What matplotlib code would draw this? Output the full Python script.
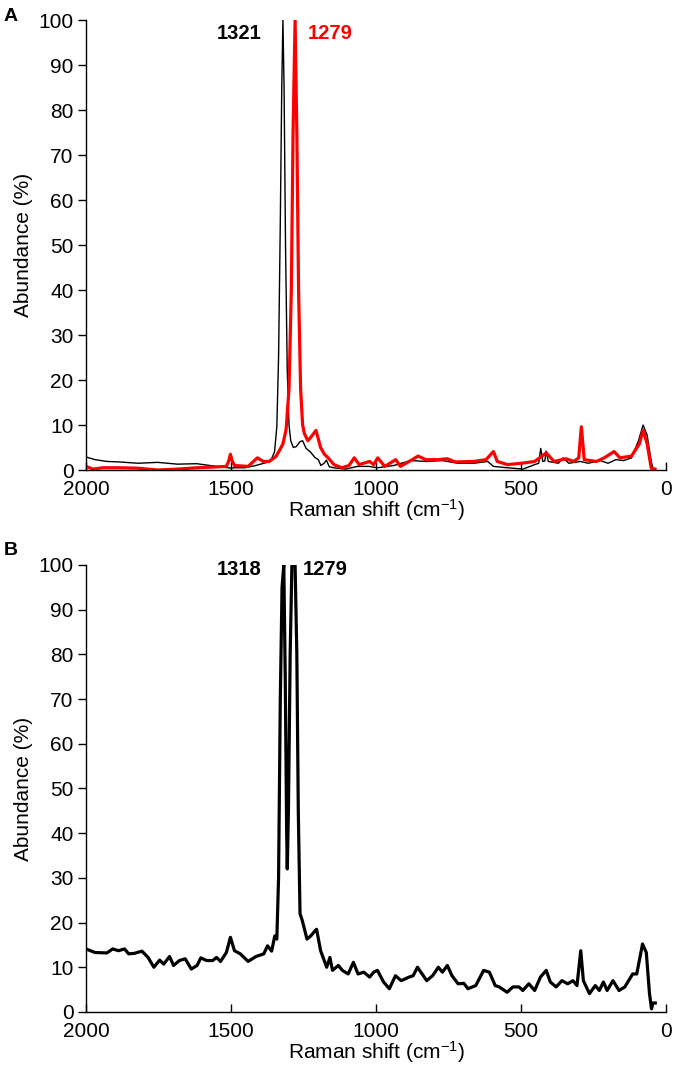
import numpy as np
import matplotlib
matplotlib.use('Agg')
import matplotlib.pyplot as plt

plt.rcParams['font.family'] = ['Liberation Sans', 'DejaVu Sans']
plt.rcParams['mathtext.fontset'] = 'custom'
plt.rcParams['mathtext.rm'] = 'Liberation Sans'
plt.rcParams['mathtext.it'] = 'Liberation Sans:italic'

# panel A, black trace (peak 1321)
a_black_shift = [2000, 1969, 1928, 1888, 1820, 1753, 1685, 1618, 1550, 1510, 1500, 1490,
                 1452, 1415, 1375, 1360, 1350, 1342, 1336, 1330, 1325, 1321, 1317, 1312,
                 1306, 1300, 1294, 1285, 1275, 1262, 1253, 1241, 1226, 1211, 1199, 1190,
                 1179, 1171, 1161, 1145, 1132, 1105, 1064, 1024, 995, 939, 880, 825, 771,
                 717, 663, 615, 595, 547, 493, 453, 439, 432, 425, 418, 413, 406, 371, 355,
                 335, 295, 268, 227, 200, 173, 146, 119, 95, 79, 65, 51, 44]
a_black_val = [2.9, 2.3, 1.9, 1.8, 1.5, 1.7, 1.3, 1.4, 0.8, 0.5, 0.4, 0.5,
               0.5, 1.0, 1.7, 2.5, 4.0, 9.6, 25, 55, 85, 100, 85, 50,
               22, 10, 6.5, 5.0, 5.2, 6.3, 6.5, 4.8, 4.0, 2.8, 2.3, 1.0,
               1.5, 2.2, 0.7, 0.5, 0.4, 0.2, 0.8, 0.8, 0.5, 1.0, 2.1, 1.9, 2.1,
               1.5, 1.5, 1.9, 0.8, 0.5, 0.2, 1.2, 1.5, 4.8, 1.9, 2.0, 4.2, 1.9, 1.5, 2.7,
               1.5, 1.9, 1.5, 2.1, 1.5, 2.3, 2.1, 2.7, 6.5, 10.0, 7.7, 1.9, 0.2]

# panel A, red trace (peak 1279)
a_red_shift = [2000, 1976, 1942, 1888, 1820, 1753, 1685, 1618, 1550, 1516, 1508, 1502,
               1496, 1488, 1441, 1409, 1388, 1368, 1345, 1334, 1321, 1310, 1300, 1292,
               1286, 1279, 1273, 1267, 1260, 1253, 1247, 1235, 1222, 1207, 1191, 1178,
               1165, 1145, 1118, 1093, 1075, 1058, 1022, 1008, 994, 970, 932, 916, 875,
               855, 828, 787, 754, 727, 663, 621, 595, 582, 547, 499, 453, 413, 386, 345,
               318, 301, 292, 282, 240, 213, 179, 159, 119, 92, 79, 65, 51, 38]
a_red_val = [0.8, 0.2, 0.5, 0.5, 0.4, 0.0, 0.2, 0.5, 0.7, 0.8, 2.0, 3.5,
             2.0, 1.0, 0.8, 2.7, 1.9, 1.9, 3.0, 4.2, 5.8, 9, 18, 40,
             75, 100, 75, 40, 18, 10, 8.1, 6.5, 7.5, 8.8, 5.0, 3.5,
             2.7, 1.2, 0.5, 1.0, 2.7, 1.2, 1.9, 1.2, 2.7, 0.8, 2.3, 0.8, 2.3,
             3.1, 2.3, 2.3, 2.5, 1.8, 1.9, 2.3, 4.1, 1.9, 1.2, 1.5, 1.9, 3.8, 1.9, 2.5,
             1.9, 2.7, 9.6, 2.3, 1.9, 2.7, 4.1, 2.7, 3.1, 5.8, 8.8, 5.8, 0.4, 0.2]

# panel B (peaks 1318 / 1279)
b_shift = [2000, 1969, 1928, 1908, 1888, 1867, 1853, 1834, 1807, 1786, 1766, 1746,
           1732, 1712, 1698, 1678, 1658, 1637, 1617, 1604, 1584, 1563, 1550, 1536,
           1516, 1502, 1488, 1468, 1441, 1414, 1387, 1374, 1360, 1349, 1342, 1336,
           1330, 1324, 1318, 1313, 1308, 1306, 1302, 1296, 1290, 1279, 1273, 1268,
           1262, 1254, 1238, 1225, 1211, 1205, 1191, 1170, 1159, 1150, 1130, 1116,
           1096, 1078, 1062, 1042, 1022, 1008, 995, 974, 954, 933, 913, 886, 872,
           857, 825, 805, 785, 771, 754, 738, 717, 697, 683, 656, 629, 609, 589,
           575, 548, 528, 507, 494, 473, 453, 433, 413, 399, 379, 359, 339, 321,
           307, 294, 285, 264, 244, 230, 216, 203, 183, 162, 142, 115, 101, 81,
           68, 57, 50, 45, 37]
b_val = [14.1, 13.3, 13.2, 14.1, 13.7, 14.1, 13.0, 13.1, 13.6, 12.2, 10.0, 11.6,
         10.7, 12.4, 10.4, 11.5, 11.9, 9.6, 10.4, 12.1, 11.5, 11.5, 12.2, 11.3,
         13.3, 16.7, 13.7, 13.0, 11.3, 12.4, 13.0, 14.8, 13.6, 17.0, 16.3, 30,
         70, 95, 100, 75, 40, 32, 45, 80, 100, 100, 80, 45,
         22, 20.4, 16.3, 17.0, 18.1, 18.5, 13.7, 10.0, 12.2, 9.3, 10.4, 9.3,
         8.5, 11.1, 8.5, 8.9, 7.8, 8.9, 9.3, 6.7, 5.2, 8.1, 7.0, 7.8, 8.1,
         10.0, 7.0, 8.1, 10.0, 8.9, 10.4, 8.1, 6.3, 6.4, 5.2, 5.9, 9.3, 8.9, 5.9,
         5.6, 4.4, 5.6, 5.6, 4.8, 6.3, 4.8, 7.8, 9.3, 6.7, 5.6, 7.0, 6.3, 7.0,
         5.9, 13.7, 7.0, 4.1, 5.9, 4.8, 6.7, 4.8, 7.0, 4.8, 5.6, 8.5, 8.5, 15.2,
         13.3, 4.1, 0.7, 2.0, 2.0]

fig = plt.figure(figsize=(6.75, 10.77), dpi=100)
axA = fig.add_axes([0.1274, 0.5636, 0.8593, 0.4178])
axB = fig.add_axes([0.1274, 0.0604, 0.8593, 0.415])

axA.plot(a_black_shift, a_black_val, color='black', lw=1.0)
axA.plot(a_red_shift, a_red_val, color='#ff0000', lw=2.3)
axB.plot(b_shift, b_val, color='black', lw=2.3)

for ax in (axA, axB):
    ax.set_xlim(2000, 0)
    ax.set_ylim(0, 100)
    ax.set_xticks([2000, 1500, 1000, 500, 0])
    ax.set_yticks(range(0, 101, 10))
    ax.spines['top'].set_visible(False)
    ax.spines['right'].set_visible(False)
    for s in ('left', 'bottom'):
        ax.spines[s].set_linewidth(1.0)
    ax.tick_params(axis='x', direction='in', length=6, width=1.0, labelsize=15, pad=7)
    ax.tick_params(axis='y', direction='out', length=6, width=1.0, labelsize=15, pad=3)
    ax.set_xlabel('Raman shift (cm$^{-1}$)', fontsize=15, labelpad=-1)
    ax.set_ylabel('Abundance (%)', fontsize=15, labelpad=4)

axA.text(1395, 97, '1321', color='black', fontsize=14.5, fontweight='bold', ha='right', va='center')
axA.text(1235, 97, '1279', color='#ff0000', fontsize=14.5, fontweight='bold', ha='left', va='center')
axB.text(1395, 99, '1318', color='black', fontsize=14.5, fontweight='bold', ha='right', va='center')
axB.text(1252, 99, '1279', color='black', fontsize=14.5, fontweight='bold', ha='left', va='center')

fig.text(0.005, 0.993, 'A', fontsize=14, fontweight='bold', va='top')
fig.text(0.005, 0.497, 'B', fontsize=14, fontweight='bold', va='top')

fig.savefig('out.png', dpi=100)
